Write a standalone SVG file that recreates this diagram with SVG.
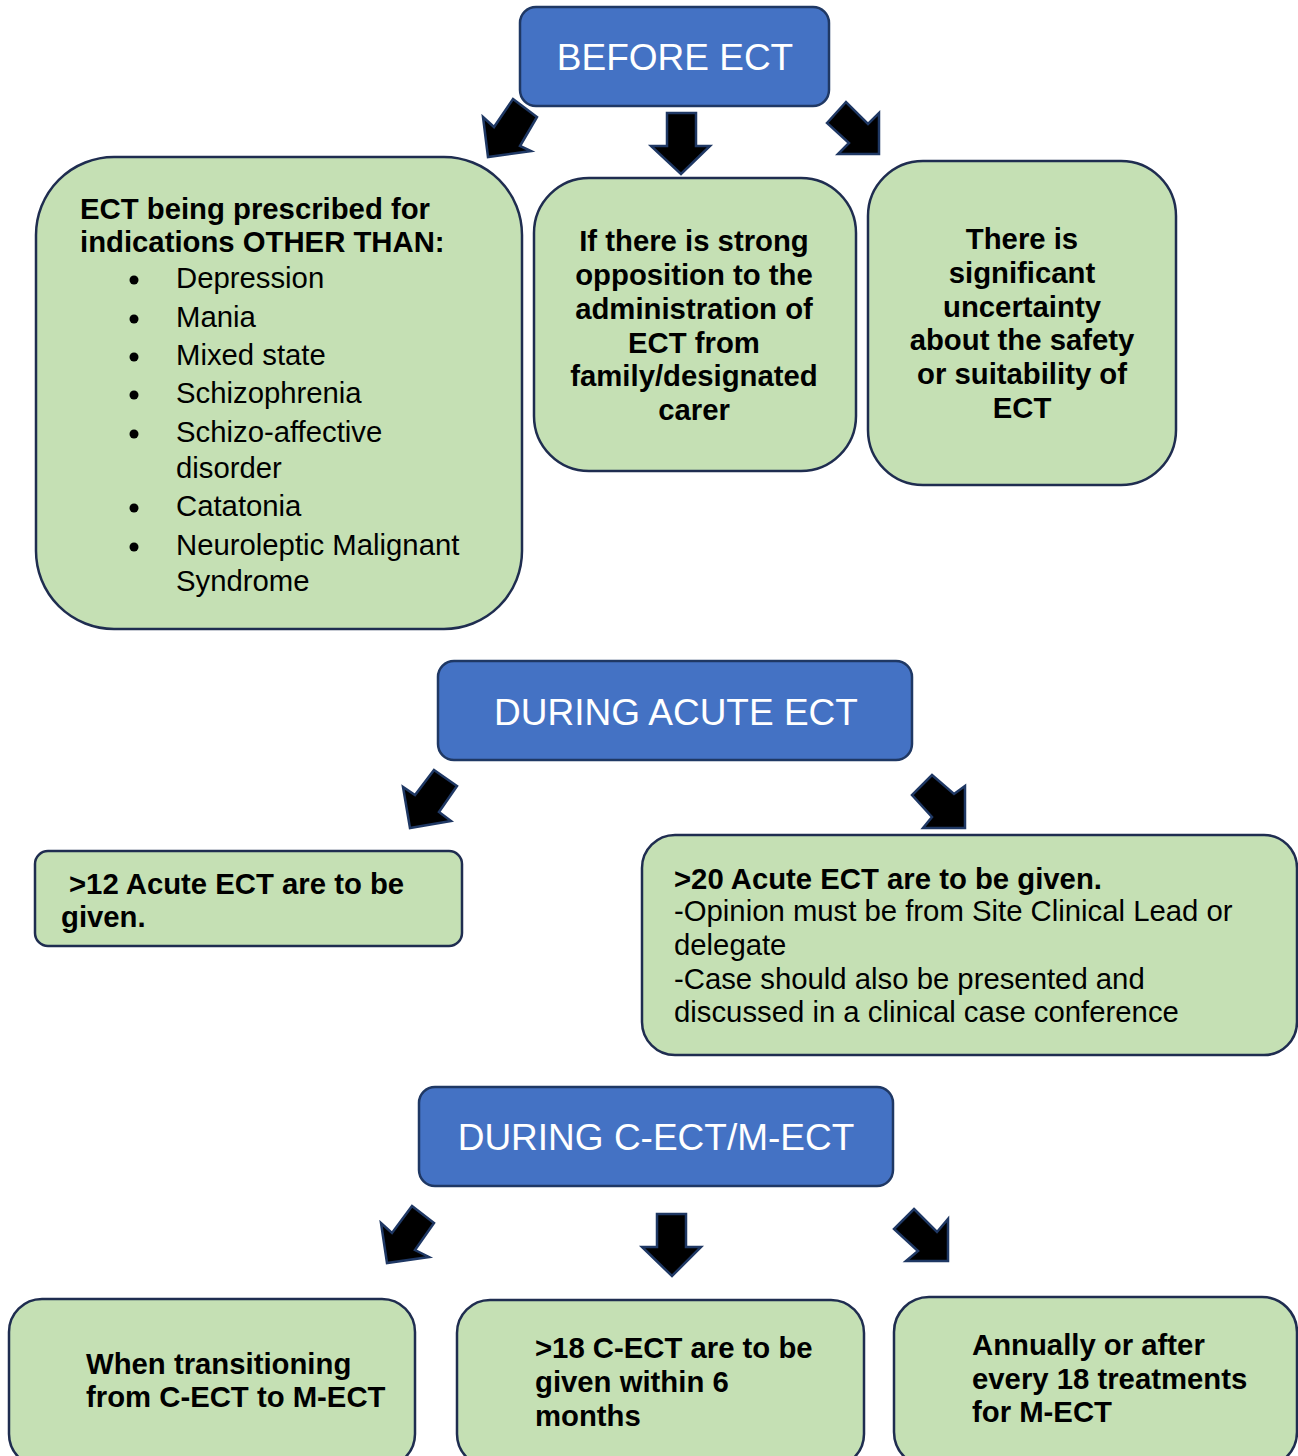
<svg xmlns="http://www.w3.org/2000/svg" width="1298" height="1456" viewBox="0 0 1298 1456">
<style>
.hdr{fill:#4472C4;stroke:#1F3864;stroke-width:2.5}
.box{fill:#C5E0B4;stroke:#1F2D50;stroke-width:2.5}
.arr{fill:#000;stroke:#1F3864;stroke-width:2.5;stroke-linejoin:miter}
.ht{font-family:"Liberation Sans",Arial,sans-serif;font-size:37px;fill:#fff;text-anchor:middle}
.b{font-family:"Liberation Sans",Arial,sans-serif;font-size:29.3px;font-weight:bold;fill:#000}
.r{font-family:"Liberation Sans",Arial,sans-serif;font-size:29.3px;fill:#000}
.c{text-anchor:middle}
</style>
<rect width="1298" height="1456" fill="#fff"/>
<g id="connectors">
<polygon class="arr" points="513,99 537,117 520,146 531,151 488,157 483,117 494,127"/>
<polygon class="arr" points="667,113 696,113 696,146 710,146 681,174 651,146 667,146"/>
<polygon class="arr" points="827,123 846,102 868,124 879,113 879,154 838,154 849,143"/>
<polygon class="arr" points="434,770 457,786 439,812 451,821 410,828 403,787 415,795"/>
<polygon class="arr" points="932,775 954,794 965,786 965,828 923,828 932,817 912,795"/>
<polygon class="arr" points="412,1206 434,1223 415,1250 429,1257 387,1263 381,1223 392,1233"/>
<polygon class="arr" points="657,1214 686,1214 686,1247 701,1247 672,1276 642,1247 657,1247"/>
<polygon class="arr" points="914,1209 937,1232 948,1219 948,1261 906,1261 918,1251 894,1229"/>
</g>
<g id="before-ect">
<rect class="hdr" x="520" y="7" width="309" height="99" rx="16"/>
<text class="ht" x="675" y="70">BEFORE ECT</text>
</g>
<g id="other-indications">
<rect class="box" x="36" y="157" width="486" height="472" rx="78"/>
<text class="b" x="80" y="219">ECT being prescribed for</text>
<text class="b" x="80" y="252">indications OTHER THAN:</text>
<g class="r">
<circle cx="134" cy="280" r="4.5"/><text x="176" y="288">Depression</text>
<circle cx="134" cy="319" r="4.5"/><text x="176" y="327">Mania</text>
<circle cx="134" cy="357" r="4.5"/><text x="176" y="365">Mixed state</text>
<circle cx="134" cy="395" r="4.5"/><text x="176" y="403">Schizophrenia</text>
<circle cx="134" cy="434" r="4.5"/><text x="176" y="442">Schizo-affective</text>
<text x="176" y="478">disorder</text>
<circle cx="134" cy="508" r="4.5"/><text x="176" y="516">Catatonia</text>
<circle cx="134" cy="547" r="4.5"/><text x="176" y="555">Neuroleptic Malignant</text>
<text x="176" y="591">Syndrome</text>
</g>
</g>
<g id="opposition">
<rect class="box" x="534" y="178" width="322" height="293" rx="55"/>
<text class="b c" x="694" y="251">If there is strong</text>
<text class="b c" x="694" y="285">opposition to the</text>
<text class="b c" x="694" y="319">administration of</text>
<text class="b c" x="694" y="353">ECT from</text>
<text class="b c" x="694" y="386">family/designated</text>
<text class="b c" x="694" y="420">carer</text>
</g>
<g id="uncertainty">
<rect class="box" x="868" y="161" width="308" height="324" rx="55"/>
<text class="b c" x="1022" y="249">There is</text>
<text class="b c" x="1022" y="283">significant</text>
<text class="b c" x="1022" y="317">uncertainty</text>
<text class="b c" x="1022" y="350">about the safety</text>
<text class="b c" x="1022" y="384">or suitability of</text>
<text class="b c" x="1022" y="418">ECT</text>
</g>
<g id="during-acute">
<rect class="hdr" x="438" y="661" width="474" height="99" rx="16"/>
<text class="ht" x="676" y="725">DURING ACUTE ECT</text>
</g>
<g id="acute-12">
<rect class="box" x="35" y="851" width="427" height="95" rx="13"/>
<text class="b" x="69" y="894">&gt;12 Acute ECT are to be</text>
<text class="b" x="61" y="927">given.</text>
</g>
<g id="acute-20">
<rect class="box" x="642" y="835" width="655" height="220" rx="33"/>
<text class="b" x="674" y="889">&gt;20 Acute ECT are to be given.</text>
<text class="r" x="674" y="921">-Opinion must be from Site Clinical Lead or</text>
<text class="r" x="674" y="955">delegate</text>
<text class="r" x="674" y="989">-Case should also be presented and</text>
<text class="r" x="674" y="1022">discussed in a clinical case conference</text>
</g>
<g id="during-cect">
<rect class="hdr" x="419" y="1087" width="474" height="99" rx="16"/>
<text class="ht" x="656" y="1150">DURING C-ECT/M-ECT</text>
</g>
<g id="transition">
<rect class="box" x="9" y="1299" width="406" height="168" rx="33"/>
<text class="b" x="86" y="1374">When transitioning</text>
<text class="b" x="86" y="1407">from C-ECT to M-ECT</text>
</g>
<g id="cect-18">
<rect class="box" x="457" y="1300" width="407" height="167" rx="33"/>
<text class="b" x="535" y="1358">&gt;18 C-ECT are to be</text>
<text class="b" x="535" y="1392">given within 6</text>
<text class="b" x="535" y="1426">months</text>
</g>
<g id="annually">
<rect class="box" x="894" y="1297" width="403" height="170" rx="35"/>
<text class="b" x="972" y="1355">Annually or after</text>
<text class="b" x="972" y="1389">every 18 treatments</text>
<text class="b" x="972" y="1422">for M-ECT</text>
</g>
</svg>
